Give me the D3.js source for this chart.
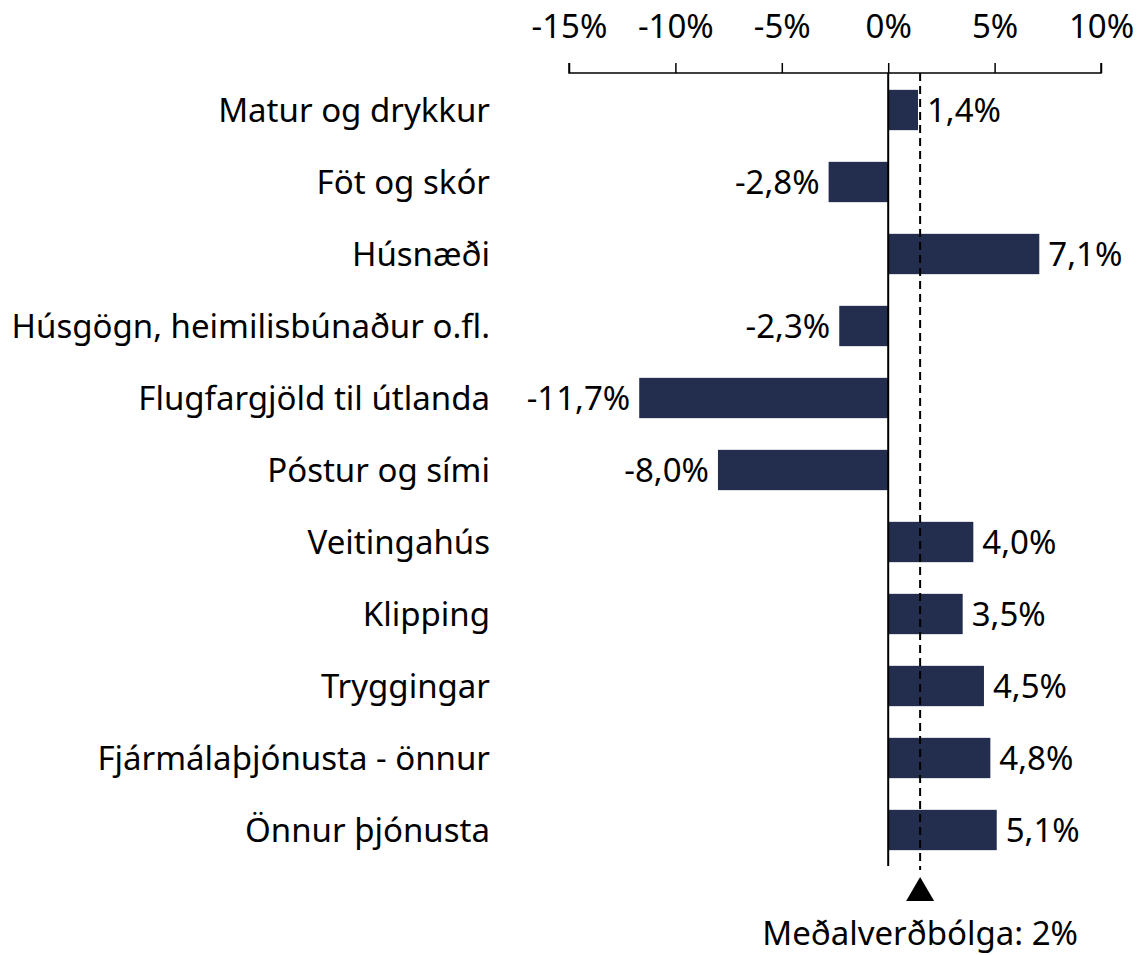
<!DOCTYPE html>
<html><head><meta charset="utf-8">
<script src="https://cdn.jsdelivr.net/npm/d3@7"></script>
<style>body{margin:0;background:#fff}svg{display:block}text{font-family:"Noto Sans",sans-serif;fill:#000}</style>
</head><body>
<script>
const categories = ["Matur og drykkur","Föt og skór","Húsnæði","Húsgögn, heimilisbúnaður o.fl.","Flugfargjöld til útlanda","Póstur og sími","Veitingahús","Klipping","Tryggingar","Fjármálaþjónusta - önnur","Önnur þjónusta"];
const values = [1.4,-2.8,7.1,-2.3,-11.7,-8.0,4.0,3.5,4.5,4.8,5.1];
const tickValues = [-15,-10,-5,0,5,10];
const avgMarker = 1.5;
const avgLabel = "Meðalverðbólga: 2%";

const W = 1138, H = 955;
const svg = d3.select("body").append("svg").attr("width", W).attr("height", H);
const x = d3.scaleLinear().domain([-15,10]).range([569,1101]);
const y = d3.scaleBand().domain(categories).range([74,866]).paddingInner(0.44).paddingOuter(0.22);
const fmt = v => d3.format(".1f")(v).replace(".", ",").replace("−","-") + "%";
const FS = 33;

// axis
const axis = d3.axisTop(x).tickValues(tickValues).tickSize(10).tickPadding(25)
  .tickFormat(d => d + "%");
const gA = svg.append("g").attr("transform","translate(0,73)").call(axis);
gA.select(".domain").attr("stroke","#000").attr("stroke-width",1.5).attr("d", `M${x(-15)},-10V0H${x(10)}V-10`);
gA.selectAll(".tick line").attr("stroke","#000").attr("stroke-width",1.5);
gA.selectAll(".tick text").attr("font-size",FS).attr("font-family","Noto Sans").attr("fill","#000");

// bars
svg.append("g").selectAll("rect").data(values).join("rect")
  .attr("x", d => x(Math.min(0,d)))
  .attr("width", d => Math.abs(x(d)-x(0)))
  .attr("y", (d,i) => y(categories[i]))
  .attr("height", y.bandwidth())
  .attr("fill", "#232e4e");

// zero line
svg.append("line").attr("x1",x(0)).attr("x2",x(0)).attr("y1",73).attr("y2",866)
  .attr("stroke","#000").attr("stroke-width",2);
// average dashed line
svg.append("line").attr("x1",x(avgMarker)).attr("x2",x(avgMarker)).attr("y1",73).attr("y2",870)
  .attr("stroke","#000").attr("stroke-width",2).attr("stroke-dasharray","8,5");

// triangle
const tx = x(avgMarker);
svg.append("path").attr("d", `M${tx},877L${tx+14},901L${tx-14},901Z`).attr("fill","#000");
svg.append("text").attr("x", tx).attr("y", 945).attr("text-anchor","middle").attr("font-size",FS).text(avgLabel);

// category labels
svg.append("g").selectAll("text").data(categories).join("text")
  .attr("x", 490).attr("y", d => y(d) + y.bandwidth()/2)
  .attr("dy","0.35em").attr("text-anchor","end").attr("font-size",FS).text(d => d);

// value labels
svg.append("g").selectAll("text").data(values).join("text")
  .attr("x", d => d >= 0 ? x(d) + 9 : x(d) - 9)
  .attr("y", (d,i) => y(categories[i]) + y.bandwidth()/2)
  .attr("dy","0.35em").attr("text-anchor", d => d >= 0 ? "start" : "end")
  .attr("font-size",FS).text(d => fmt(d));
</script>
</body></html>
